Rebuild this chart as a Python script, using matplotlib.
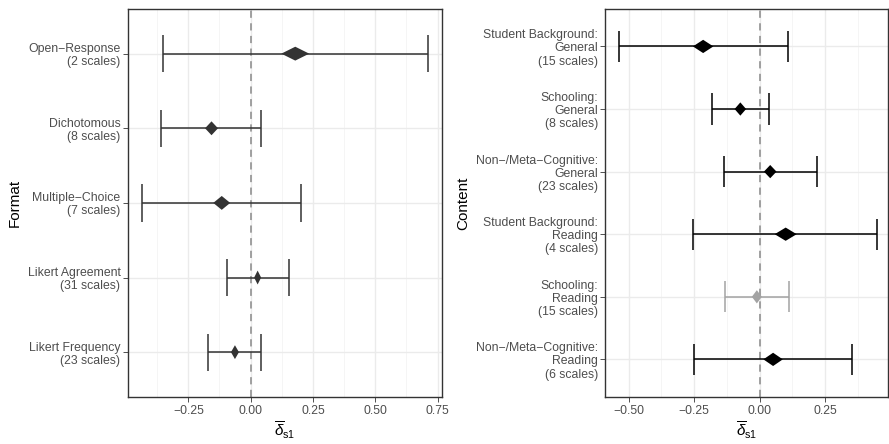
import matplotlib
matplotlib.use("Agg")
import matplotlib.pyplot as plt
from matplotlib.ticker import MultipleLocator

plt.rcParams['font.family'] = ['Liberation Sans', 'DejaVu Sans']
plt.rcParams['mathtext.fontset'] = 'custom'
plt.rcParams['mathtext.rm'] = 'Liberation Sans'
plt.rcParams['mathtext.it'] = 'Liberation Sans:italic'

# Format panel (top to bottom)
fmt_labels = ["Open\u2212Response\n(2 scales)", "Dichotomous\n(8 scales)",
              "Multiple\u2212Choice\n(7 scales)", "Likert Agreement\n(31 scales)",
              "Likert Frequency\n(23 scales)"]
fmt_est = [0.179, -0.157, -0.116, 0.028, -0.063]
fmt_lo = [-0.351, -0.359, -0.435, -0.096, -0.170]
fmt_hi = [0.711, 0.041, 0.202, 0.154, 0.043]
fmt_hw = [0.056, 0.026, 0.034, 0.014, 0.016]
fmt_col = ['#333333'] * 5

# Content panel (top to bottom)
cnt_labels = ["Student Background:\nGeneral\n(15 scales)", "Schooling:\nGeneral\n(8 scales)",
              "Non\u2212/Meta\u2212Cognitive:\nGeneral\n(23 scales)",
              "Student Background:\nReading\n(4 scales)", "Schooling:\nReading\n(15 scales)",
              "Non\u2212/Meta\u2212Cognitive:\nReading\n(6 scales)"]
cnt_est = [-0.216, -0.074, 0.040, 0.099, -0.011, 0.051]
cnt_lo = [-0.538, -0.182, -0.137, -0.253, -0.133, -0.249]
cnt_hi = [0.107, 0.035, 0.217, 0.449, 0.110, 0.351]
cnt_hw = [0.039, 0.022, 0.024, 0.042, 0.019, 0.037]
cnt_col = ['black', 'black', 'black', 'black', '#a3a3a3', 'black']


def panel(ax, labels, est, lo, hi, hw, cols, xlim, ylab, dh):
    n = len(labels)
    ys = list(range(n, 0, -1))
    ax.axvline(0, color='#999999', lw=1.3, ls=(0, (4, 3)), zorder=2)
    for y, e, l, h, w, c in zip(ys, est, lo, hi, hw, cols):
        ax.hlines(y, l, h, color=c, lw=1.1, zorder=3)
        ax.vlines([l, h], y - 0.25, y + 0.25, color=c, lw=1.1, zorder=3)
        ax.fill([e - w, e, e + w, e], [y, y + dh, y, y - dh], color=c, lw=0, zorder=4)
    ax.set_xlim(*xlim)
    ax.set_ylim(0.4, n + 0.6)
    ax.set_yticks(ys)
    ax.set_yticklabels(labels, linespacing=1.12)
    ax.xaxis.set_major_locator(MultipleLocator(0.25))
    ax.xaxis.set_minor_locator(MultipleLocator(0.125))
    ax.xaxis.set_major_formatter(lambda v, p: f"{v:.2f}".replace('-', '\u2212'))
    ax.grid(True, which='major', color='#ebebeb', lw=1.0, zorder=0)
    ax.grid(True, which='minor', axis='x', color='#f4f4f4', lw=0.6, zorder=0)
    ax.set_axisbelow(True)
    ax.tick_params(axis='both', which='major', length=3.5, width=0.6, color='#333333',
                   labelcolor='#4d4d4d', labelsize=8.8, pad=2)
    ax.tick_params(axis='x', which='minor', length=0)
    for s in ax.spines.values():
        s.set_color('#333333')
        s.set_linewidth(1.0)
    ax.set_ylabel(ylab, fontsize=11)
    ax.set_xlabel(r'$\overline{\delta}_{\mathrm{s1}}$', fontsize=11, labelpad=2)


fig = plt.figure(figsize=(8.89, 4.44), dpi=100)
ax1 = fig.add_axes([0.144, 0.106, 0.353, 0.874])
ax2 = fig.add_axes([0.681, 0.106, 0.318, 0.874])

panel(ax1, fmt_labels, fmt_est, fmt_lo, fmt_hi, fmt_hw, fmt_col, (-0.492, 0.767), 'Format', 0.093)
panel(ax2, cnt_labels, cnt_est, cnt_lo, cnt_hi, cnt_hw, cnt_col, (-0.589, 0.49), 'Content', 0.106)

fig.savefig('out.png', dpi=100)
